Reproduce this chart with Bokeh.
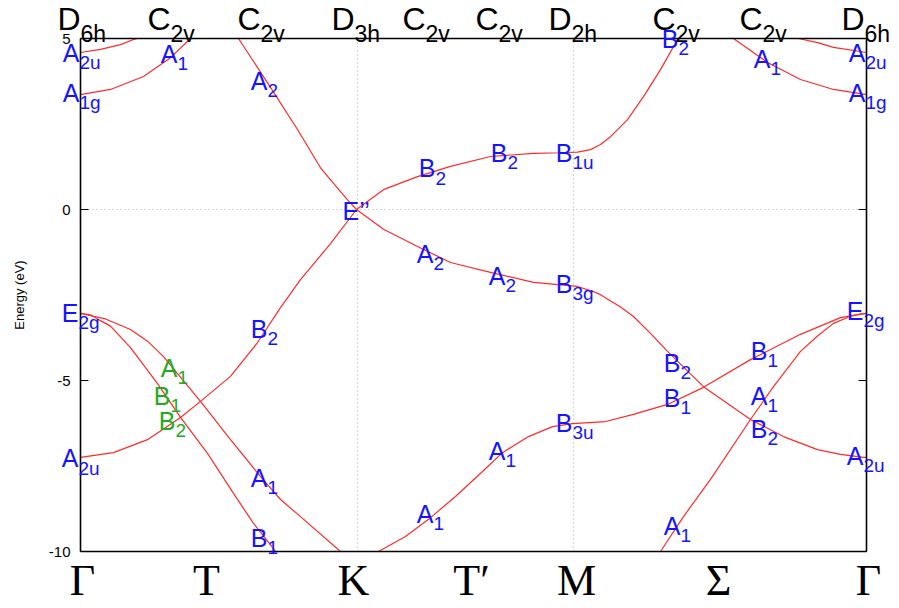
import math
from bokeh.plotting import figure
from bokeh.models import Range1d
from bokeh.core.properties import value
from bokeh.embed import file_html
from bokeh.resources import INLINE

# ---------------- data (path distance k, energy in eV) ----------------
K_GAMMA0, K_K, K_M, K_GAMMA1 = 0.0, 2.77, 4.93, 7.86
Y_MIN, Y_MAX = -10.0, 5.0

band_a2u_left_k = [0.00, 0.20, 0.40, 0.53, 0.57]
band_a2u_left_e = [4.59, 4.68, 4.82, 4.97, 5.00]

band_a1g_left_k = [0.00, 0.30, 0.63, 0.90, 1.10]
band_a1g_left_e = [3.36, 3.51, 3.89, 4.44, 5.00]

band_pistar_gk_k = [1.58, 1.90, 2.17, 2.40, 2.67, 2.76]
band_pistar_gk_e = [5.00, 3.57, 2.34, 1.22, 0.28, 0.00]

band_pi_gk_k = [0.00, 0.33, 0.67, 1.00, 1.20, 1.50, 1.77, 2.00, 2.20, 2.50, 2.76]
band_pi_gk_e = [-7.25, -7.11, -6.73, -6.08, -5.61, -4.88, -3.89, -2.87, -2.05, -1.00, 0.00]

band_sigA_gk_k = [0.00, 0.25, 0.50, 0.67, 0.83, 1.20, 1.50, 1.80, 2.00, 2.20, 2.60]
band_sigA_gk_e = [-3.04, -3.20, -3.51, -3.85, -4.30, -5.61, -6.73, -7.81, -8.48, -8.98, -10.00]

band_sigB_gk_k = [0.00, 0.10, 0.20, 0.30, 0.50, 0.77, 1.00, 1.27, 1.53, 1.73, 1.92, 1.95]
band_sigB_gk_e = [-3.04, -3.08, -3.25, -3.41, -4.04, -5.09, -6.08, -7.13, -8.30, -9.18, -9.88, -10.00]

band_pistar_km_k = [2.76, 3.03, 3.37, 3.70, 4.10, 4.53, 4.80, 4.97, 5.10, 5.20, 5.30, 5.47, 5.63,
                    5.80, 5.97, 5.99]
band_pistar_km_e = [0.00, 0.58, 0.96, 1.26, 1.55, 1.64, 1.66, 1.68, 1.75, 1.90, 2.13, 2.63, 3.30,
                    4.09, 4.97, 5.00]

band_pi_kmg_k = [2.76, 3.03, 3.37, 3.70, 4.10, 4.53, 4.97, 5.13, 5.20, 5.40, 5.53, 5.70,
                 5.87, 6.23, 6.70, 7.03, 7.37, 7.60, 7.83, 7.86]
band_pi_kmg_e = [0.00, -0.58, -1.08, -1.55, -1.84, -2.13, -2.25, -2.40, -2.49, -2.85, -3.13, -3.62,
                 -4.15, -5.18, -6.14, -6.64, -7.02, -7.16, -7.25, -7.25]

band_sig_kmg_k = [2.98, 3.25, 3.48, 3.75, 4.02, 4.22, 4.48, 4.72, 4.92, 5.25, 5.53, 5.87, 6.23,
                  6.70, 7.20, 7.60, 7.80, 7.86]
band_sig_kmg_e = [-10.00, -9.56, -9.06, -8.39, -7.66, -7.11, -6.64, -6.35, -6.26, -6.20, -5.99, -5.70,
                  -5.20, -4.39, -3.65, -3.16, -3.06, -3.04]

band_sig_sigma_k = [5.80, 6.03, 6.30, 6.70, 6.93, 7.20, 7.37, 7.53, 7.70, 7.80, 7.86]
band_sig_sigma_e = [-10.00, -8.98, -7.89, -6.14, -5.18, -4.15, -3.70, -3.33, -3.12, -3.06, -3.04]

band_a1_right_k = [6.53, 6.87, 7.20, 7.53, 7.86]
band_a1_right_e = [5.00, 4.30, 3.80, 3.51, 3.36]

band_a2u_right_k = [7.18, 7.37, 7.53, 7.86]
band_a2u_right_e = [5.00, 4.88, 4.74, 4.59]

bands = [
    (band_a2u_left_k, band_a2u_left_e), (band_a1g_left_k, band_a1g_left_e),
    (band_pistar_gk_k, band_pistar_gk_e), (band_pi_gk_k, band_pi_gk_e),
    (band_sigA_gk_k, band_sigA_gk_e), (band_sigB_gk_k, band_sigB_gk_e),
    (band_pistar_km_k, band_pistar_km_e), (band_pi_kmg_k, band_pi_kmg_e),
    (band_sig_kmg_k, band_sig_kmg_e), (band_sig_sigma_k, band_sig_sigma_e),
    (band_a1_right_k, band_a1_right_e), (band_a2u_right_k, band_a2u_right_e),
]

# irreducible-representation labels: main letter, subscript, k, energy (baseline), green?
irrep_main = ["A", "A", "A", "A", "B", "B", "B", "A", "A", "B", "B", "A", "A", "A",
              "E", "B", "A", "A", "B", "B", "A", "B", "A", "A", "B", "B", "B", "B",
              "A", "B", "E", "A", "A"]
irrep_sub = ["2u", "1g", "1", "2", "2", "2", "1u", "2", "2", "3g", "2", "1", "2u", "1g",
             "2g", "2", "2u", "1", "1", "2", "1", "1", "1", "1", "3u", "2", "1", "1",
             "1", "2", "2g", "2u", "1"]
irrep_k = [-0.01, -0.01, 0.97, 1.87, 3.55, 4.27, 4.92, 3.53, 4.25, 4.92, 5.98, 6.90, 7.85, 7.85,
           -0.02, 1.87, -0.02, 0.97, 0.90, 0.95, 1.87, 1.87, 3.53, 4.25, 4.92, 6.00, 6.00, 6.87,
           6.87, 6.87, 7.83, 7.83, 6.00]
irrep_e = [4.33, 3.16, 4.30, 3.51, 0.96, 1.40, 1.40, -1.55, -2.19, -2.43, 4.74, 4.15, 4.33, 3.16,
           -3.27, -3.74, -7.52, -4.88, -5.70, -6.43, -8.10, -9.85, -9.15, -7.31, -6.49, -4.74, -5.76,
           -4.39, -5.70, -6.67, -3.22, -7.46, -9.50]
irrep_green = [False] * 17 + [True, True, True] + [False] * 13

dirac_label = "E’’"
dirac_k, dirac_e = 2.62, -0.29

# point groups along the path
group_main = ["D", "C", "C", "D", "C", "C", "D", "C", "C", "D"]
group_sub = ["6h", "2v", "2v", "3h", "2v", "2v", "2h", "2v", "2v", "6h"]
group_k = [0.00, 0.90, 1.80, 2.74, 3.45, 4.18, 4.91, 5.95, 6.82, 7.84]

# k-point labels
kpt_labels = ["Γ", "T", "K", "T′", "M", "Σ", "Γ"]
kpt_k = [0.02, 1.26, 2.73, 3.91, 4.96, 6.38, 7.88]

y_ticks = [-10, -5, 0, 5]
y_tick_labels = ["-10", "-5", "0", "5"]
y_title = "Energy (eV)"

# ---------------- layout (pixels) ----------------
CANVAS_W, CANVAS_H = 897, 606
BOX_L, BOX_R, BOX_T, BOX_B = 80, 866, 38, 551
PX_PER_K = (BOX_R - BOX_L) / (K_GAMMA1 - K_GAMMA0)
PX_PER_E = (BOX_B - BOX_T) / (Y_MAX - Y_MIN)
CAP_MID = 0.35  # cap-height centre above the baseline, in em


def dx(px):
    return px / PX_PER_K


def dy(px):
    return px / PX_PER_E


x_lo = K_GAMMA0 - dx(BOX_L)
x_hi = K_GAMMA1 + dx(CANVAS_W - BOX_R)
y_lo = Y_MIN - dy(CANVAS_H - BOX_B)
y_hi = Y_MAX + dy(BOX_T)

p = figure(frame_width=CANVAS_W, frame_height=CANVAS_H,
           x_range=Range1d(x_lo, x_hi), y_range=Range1d(y_lo, y_hi),
           x_axis_location=None, y_axis_location=None,
           output_backend="svg", toolbar_location=None, min_border=0)
p.xgrid.visible = False
p.ygrid.visible = False
p.outline_line_color = None
p.background_fill_color = "white"
p.border_fill_color = "white"

SANS = "Liberation Sans"
BLUE, GREEN, RED = "#1414ff", "#22aa22", "#ff2a2a"


def put_text(xs, ys_baseline, texts, fs, align, colors="black", font=SANS):
    """Texts placed by their baseline, drawn with a centred baseline."""
    p.text(x=xs, y=[y + dy(CAP_MID * fs) for y in ys_baseline], text=texts,
           text_align=align, text_baseline="middle", text_font=value(font),
           text_font_size=value(f"{fs}px"), text_color=colors)


# dotted grid at E=0 and at K, M
p.segment(x0=[K_GAMMA0, K_K, K_M], y0=[0, Y_MIN, Y_MIN], x1=[K_GAMMA1, K_K, K_M], y1=[0, Y_MAX, Y_MAX],
          line_color="#b4b4b4", line_dash="1 3", line_width=1)

# bands
for ks, es in bands:
    p.line(ks, es, line_color=RED, line_width=1.2)

# plot box
p.segment(x0=[K_GAMMA0, K_GAMMA0, K_GAMMA0, K_GAMMA1], y0=[Y_MIN, Y_MAX, Y_MIN, Y_MIN],
          x1=[K_GAMMA1, K_GAMMA1, K_GAMMA0, K_GAMMA1], y1=[Y_MIN, Y_MAX, Y_MAX, Y_MAX],
          line_color="black", line_width=1.6)

# y ticks (inward, both sides) and tick labels
TICK = 8
n = len(y_ticks)
p.segment(x0=[K_GAMMA0] * n, y0=y_ticks, x1=[K_GAMMA0 + dx(TICK)] * n, y1=y_ticks,
          line_color="black", line_width=1)
p.segment(x0=[K_GAMMA1] * n, y0=y_ticks, x1=[K_GAMMA1 - dx(TICK)] * n, y1=y_ticks,
          line_color="black", line_width=1)
p.text(x=[K_GAMMA0 - dx(10)] * n, y=y_ticks, text=y_tick_labels,
       text_align="right", text_baseline="middle", text_font=value(SANS),
       text_font_size=value("15px"), text_color="black")
p.text(x=[K_GAMMA0 - dx(61)], y=[(Y_MIN + Y_MAX) / 2], text=[y_title], angle=math.pi / 2,
       text_align="center", text_baseline="middle", text_font=value(SANS),
       text_font_size=value("13px"), text_color="black")

# irreducible-representation labels
colors = [GREEN if g else BLUE for g in irrep_green]
put_text(irrep_k, irrep_e, irrep_main, 25, "right", colors)
put_text(irrep_k, [e - dy(8) for e in irrep_e], irrep_sub, 19, "left", colors)
put_text([dirac_k], [dirac_e], [dirac_label], 25, "left", BLUE)

# point-group labels above the box
m = len(group_k)
put_text(group_k, [Y_MAX + dy(8)] * m, group_main, 32, "right")
put_text(group_k, [Y_MAX - dy(4)] * m, group_sub, 23, "left")

# k-point labels below the box
put_text(kpt_k, [Y_MIN - dy(44)] * len(kpt_k), kpt_labels, 44, "center", font="Liberation Serif")

open("out.html", "w").write(file_html(p, INLINE))
